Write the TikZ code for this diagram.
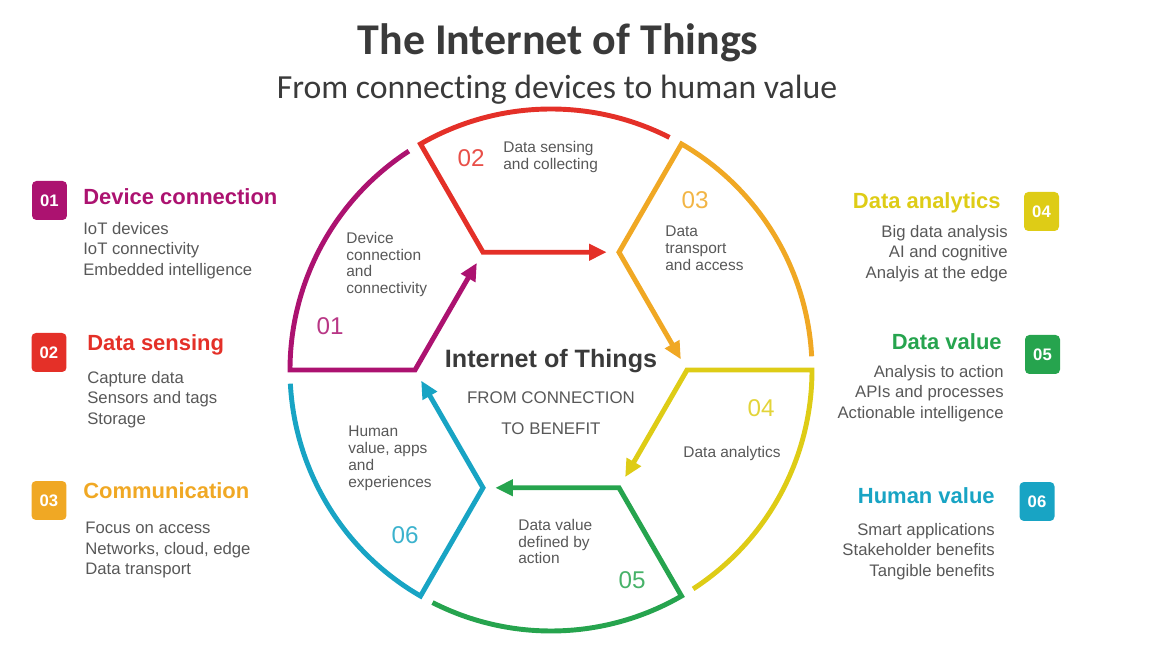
\documentclass[tikz,border=0pt]{standalone}
\usepackage{fontspec}
\setmainfont{Liberation Sans}
\newfontfamily\titlefont[Ligatures=NoCommon]{Carlito}
\usetikzlibrary{arrows.meta,calc}
\definecolor{cmag}{RGB}{172,18,112}
\definecolor{cred}{RGB}{228,48,40}
\definecolor{cora}{RGB}{240,168,36}
\definecolor{cyel}{RGB}{222,204,22}
\definecolor{cgrn}{RGB}{38,164,78}
\definecolor{ccya}{RGB}{24,164,196}
\definecolor{txtgray}{RGB}{88,88,88}
\definecolor{ttlgray}{RGB}{58,58,58}
\tikzset{
  seg/.style={line width=2.8pt, line join=miter, -{Triangle[length=10pt,width=9pt]},
              shorten >=7pt},
  badge/.style={fill=#1, rounded corners=2.5pt, minimum width=0.7cm, minimum height=0.78cm,
                inner sep=0pt, text=white, font=\fontsize{9.5}{10}\selectfont\bfseries},
  headl/.style={text=#1, inner sep=0pt, font=\fontsize{12.5}{14}\selectfont\bfseries},
  itemsl/.style={text=txtgray, inner sep=0pt, font=\fontsize{9.5}{11.7}\selectfont},
  numl/.style={text=#1!85, inner sep=0pt, font=\fontsize{13.8}{15}\selectfont},
  inl/.style={text=txtgray, inner sep=0pt, align=left, font=\fontsize{8.8}{9.5}\selectfont}
}
\begin{document}
\begin{tikzpicture}[x=0.02cm, y=0.02cm]
\useasboundingbox (0,0) rectangle (1152,662);
% title
\node (title) [anchor=base, text=ttlgray, inner sep=0pt, font=\titlefont\fontsize{25}{28}\selectfont\bfseries]
  at (558,607) {The Internet of Things};
\node (subtitle) [anchor=base, text=ttlgray, inner sep=0pt, font=\titlefont\fontsize{19.2}{22}\selectfont]
  at (557,563) {From connecting devices to human value};
% wheel
\begin{scope}[shift={(551,292)}]
\foreach \a/\col in {180/cmag,120/cred,60/cora,0/cyel,-60/cgrn,-120/ccya}
  \draw[seg, color=\col] (\a-57:261) arc[start angle=\a-57, end angle=\a, radius=261]
    -- (\a:136) -- (\a-60:136);
\end{scope}
% centre
\node (core) [anchor=base, text=ttlgray, inner sep=0pt, font=\fontsize{14.3}{16}\selectfont\bfseries]
  at (551,294) {Internet of Things};
\node (core1) [anchor=base, text=txtgray, inner sep=0pt, font=\fontsize{9.6}{11}\selectfont]
  at (551,258) {FROM CONNECTION};
\node (core2) [anchor=base, text=txtgray, inner sep=0pt, font=\fontsize{9.6}{11}\selectfont]
  at (551,227) {TO BENEFIT};
% numbers in the wheel
\node (num1) [numl=cmag] at (330,336) {01};
\node (num2) [numl=cred] at (471,504) {02};
\node (num3) [numl=cora] at (695,462) {03};
\node (num4) [numl=cyel] at (761,254) {04};
\node (num5) [numl=cgrn] at (632,82) {05};
\node (num6) [numl=ccya] at (405,127) {06};
% texts in the wheel
\node (in1) [inl, anchor=north west] at (346,430) {Device\\connection\\and\\connectivity};
\node (in2) [inl, anchor=north west] at (503,521) {Data sensing\\and collecting};
\node (in3) [inl, anchor=north west] at (665,436) {Data\\transport\\and access};
\node (in4) [inl] at (732,208) {Data analytics};
\node (in5) [inl, anchor=north west] at (518,143) {Data value\\defined by\\action};
\node (in6) [inl, anchor=north west] at (348,236) {Human\\value, apps\\and\\experiences};
% left column
\node (badge1) [badge=cmag] at (49.5,461.5) {01};
\node (head1) [headl=cmag, anchor=west] at (83,465) {Device connection};
\node (list1) [itemsl, anchor=north west, align=left] at (83,440) {IoT devices\\IoT connectivity\\Embedded intelligence};
\node (badge2) [badge=cred] at (49,309.5) {02};
\node (head2) [headl=cred, anchor=west] at (87,317) {Data sensing};
\node (list2) [itemsl, anchor=north west, align=left] at (87,291) {Capture data\\Sensors and tags\\Storage};
\node (badge3) [badge=cora] at (49,161.5) {03};
\node (head3) [headl=cora, anchor=west] at (83,171) {Communication};
\node (list3) [itemsl, anchor=north west, align=left] at (85,140) {Focus on access\\Networks, cloud, edge\\Data transport};
% right column
\node (badge4) [badge=cyel] at (1041.5,450.5) {04};
\node (head4) [headl=cyel, anchor=east] at (1001,459) {Data analytics};
\node (list4) [itemsl, anchor=north east, align=right] at (1008,437) {Big data analysis\\AI and cognitive\\Analyis at the edge};
\node (badge5) [badge=cgrn] at (1042.5,307.5) {05};
\node (head5) [headl=cgrn, anchor=east] at (1002,320) {Data value};
\node (list5) [itemsl, anchor=north east, align=right] at (1004,297) {Analysis to action\\APIs and processes\\Actionable intelligence};
\node (badge6) [badge=ccya] at (1037,160.5) {06};
\node (head6) [headl=ccya, anchor=east] at (995,166) {Human value};
\node (list6) [itemsl, anchor=north east, align=right] at (995,139) {Smart applications\\Stakeholder benefits\\Tangible benefits};
\end{tikzpicture}
\end{document}
